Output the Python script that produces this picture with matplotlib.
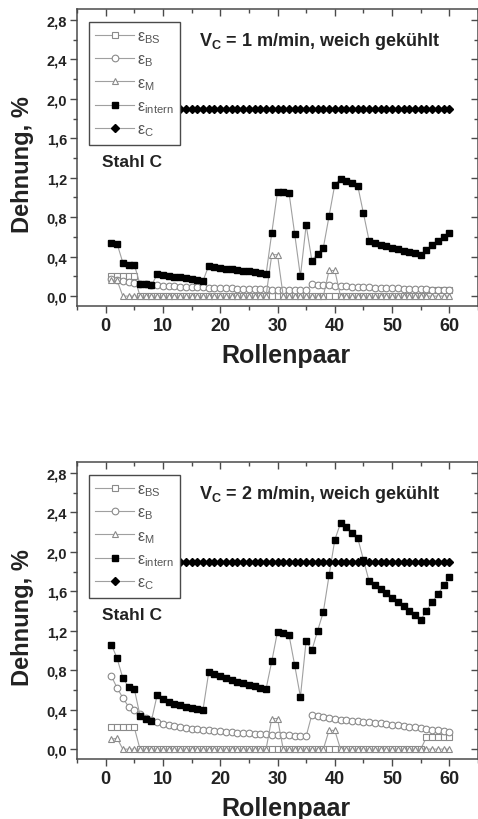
import matplotlib
matplotlib.use("Agg")
import matplotlib.pyplot as plt
from matplotlib.ticker import MultipleLocator, FuncFormatter

plt.rcParams['font.family'] = ['Liberation Sans', 'DejaVu Sans']

rollenpaar = list(range(1, 61))

# ---------- Panel 1: Vc = 1 m/min ----------
eps_bs_1 = [0.20, 0.20, 0.20, 0.20, 0.20] + [0.0] * 50 + [0.06, 0.06, 0.06, 0.06, 0.06]
eps_b_1 = [0.17, 0.16, 0.15, 0.14, 0.13, 0.12, 0.12, 0.11, 0.11, 0.105,
           0.10, 0.10, 0.095, 0.095, 0.09, 0.09, 0.09, 0.085, 0.085, 0.08,
           0.08, 0.08, 0.075, 0.075, 0.075, 0.07, 0.07, 0.07, 0.065, 0.065,
           0.065, 0.065, 0.065, 0.06, 0.06, 0.12, 0.115, 0.11, 0.11, 0.105,
           0.10, 0.10, 0.095, 0.095, 0.09, 0.09, 0.085, 0.085, 0.08, 0.08,
           0.08, 0.075, 0.075, 0.07, 0.07, 0.07, 0.065, 0.065, 0.06, 0.06]
eps_m_1 = [0.16, 0.16] + [0.0] * 26 + [0.42, 0.42] + [0.0] * 8 + [0.26, 0.26] + [0.0] * 20
eps_intern_1 = [0.54, 0.53, 0.34, 0.32, 0.32, 0.12, 0.12, 0.11,
                0.22, 0.21, 0.20, 0.195, 0.19, 0.18, 0.17, 0.165, 0.155,
                0.31, 0.30, 0.29, 0.28, 0.27, 0.265, 0.255, 0.25, 0.24, 0.23, 0.22,
                0.64, 1.06, 1.06, 1.05, 0.63, 0.20, 0.72, 0.36, 0.43, 0.49, 0.81,
                1.13, 1.19, 1.17, 1.15, 1.12, 0.84, 0.56, 0.54, 0.52, 0.51, 0.49,
                0.48, 0.46, 0.45, 0.44, 0.42, 0.47, 0.52, 0.56, 0.60, 0.64]
eps_c_1 = [1.9] * 60

# ---------- Panel 2: Vc = 2 m/min ----------
eps_bs_2 = [0.22, 0.22, 0.22, 0.22, 0.22] + [0.0] * 50 + [0.12, 0.12, 0.12, 0.12, 0.12]
eps_b_2 = [0.74, 0.62, 0.52, 0.43, 0.40, 0.36, 0.32, 0.30, 0.27, 0.25,
           0.24, 0.23, 0.22, 0.21, 0.205, 0.20, 0.195, 0.19, 0.185, 0.18,
           0.175, 0.17, 0.165, 0.16, 0.16, 0.155, 0.15, 0.15, 0.145, 0.145,
           0.14, 0.14, 0.135, 0.13, 0.13, 0.35, 0.34, 0.33, 0.32, 0.31,
           0.30, 0.295, 0.29, 0.285, 0.28, 0.27, 0.265, 0.26, 0.25, 0.245,
           0.24, 0.23, 0.225, 0.22, 0.21, 0.20, 0.195, 0.19, 0.18, 0.175]
eps_m_2 = [0.10, 0.11] + [0.0] * 26 + [0.31, 0.31] + [0.0] * 8 + [0.19, 0.19] + [0.0] * 20
eps_intern_2 = [1.06, 0.92, 0.72, 0.63, 0.61, 0.34, 0.31, 0.29,
                0.55, 0.51, 0.48, 0.46, 0.45, 0.43, 0.42, 0.41, 0.40,
                0.78, 0.76, 0.74, 0.72, 0.70, 0.68, 0.67, 0.65, 0.64, 0.62, 0.61,
                0.89, 1.19, 1.18, 1.16, 0.85, 0.53, 1.10, 1.00, 1.20, 1.39, 1.76,
                2.12, 2.29, 2.25, 2.19, 2.14, 1.92, 1.70, 1.66, 1.62, 1.58, 1.53,
                1.49, 1.45, 1.40, 1.36, 1.31, 1.40, 1.49, 1.57, 1.66, 1.74]
eps_c_2 = [1.9] * 60

titles = ["1", "2"]
legend_labels = [r'ε$_\mathregular{BS}$', r'ε$_\mathregular{B}$', r'ε$_\mathregular{M}$',
                 r'ε$_\mathregular{intern}$', r'ε$_\mathregular{C}$']

W, H = 478, 820
fig = plt.figure(figsize=(W / 100, H / 100), dpi=100)

LINE_C = '#a0a0a0'
OPEN_C = '#8a8a8a'
SPINE_C = '#4a4a4a'


def panel(ax, bs, b, m, intern, c, speed):
    x = rollenpaar
    ax.plot(x, bs, '-', color=LINE_C, lw=0.8, marker='s', ms=4.2, mfc='white',
            mec=OPEN_C, mew=0.8, label=legend_labels[0], zorder=2)
    ax.plot(x, b, '-', color=LINE_C, lw=0.8, marker='o', ms=4.8, mfc='white',
            mec=OPEN_C, mew=0.8, label=legend_labels[1], zorder=2)
    ax.plot(x, m, '-', color=LINE_C, lw=0.8, marker='^', ms=5, mfc='white',
            mec=OPEN_C, mew=0.8, label=legend_labels[2], zorder=2)
    ax.plot(x, intern, '-', color=LINE_C, lw=0.8, marker='s', ms=4.6, mfc='black',
            mec='black', label=legend_labels[3], zorder=3)
    ax.plot(x, c, '-', color=LINE_C, lw=0.8, marker='D', ms=4.2, mfc='black',
            mec='black', label=legend_labels[4], zorder=3)

    ax.set_xlim(-5, 65)
    ax.set_ylim(-0.1, 2.91)
    ax.xaxis.set_major_locator(MultipleLocator(10))
    ax.xaxis.set_minor_locator(MultipleLocator(5))
    ax.yaxis.set_major_locator(MultipleLocator(0.4))
    ax.yaxis.set_minor_locator(MultipleLocator(0.2))
    ax.yaxis.set_major_formatter(FuncFormatter(lambda v, p: f"{v:.1f}".replace('.', ',')))
    for s in ax.spines.values():
        s.set_color(SPINE_C)
        s.set_linewidth(1.1)
    ax.tick_params(axis='both', which='both', color=SPINE_C, width=1.0)
    ax.tick_params(axis='both', which='major', length=5)
    ax.tick_params(axis='both', which='minor', length=3)
    ax.tick_params(axis='x', which='both', direction='out', top=True)
    ax.tick_params(axis='y', which='both', direction='out', right=True)
    ax.tick_params(axis='x', which='major', labelsize=13, pad=3)
    ax.tick_params(axis='y', which='major', labelsize=10.5, pad=2)
    for lab in ax.get_xticklabels() + ax.get_yticklabels():
        lab.set_fontweight('bold')
        lab.set_color('#222222')
    # inward ticks on top & right
    for t in ax.xaxis.get_major_ticks() + ax.xaxis.get_minor_ticks():
        t.tick2line.set_marker(3)  # TICKDOWN
    for t in ax.yaxis.get_major_ticks() + ax.yaxis.get_minor_ticks():
        t.tick2line.set_marker(0)  # TICKLEFT

    leg = ax.legend(loc='upper left', bbox_to_anchor=(0.03, 0.957), borderaxespad=0,
                    fancybox=False, framealpha=1, edgecolor=SPINE_C, fontsize=11.5,
                    handlelength=2.4, handletextpad=0.2, labelspacing=0.42,
                    borderpad=0.4)
    leg.get_frame().set_linewidth(1.0)
    for t in leg.get_texts():
        t.set_color('#555555')
    leg.set_zorder(5)

    ax.text(0.606, 0.893, r'V$_\mathregular{C}$ = ' + speed + ' m/min, weich gekühlt',
            transform=ax.transAxes, ha='center', va='center', fontsize=13,
            fontweight='bold', color='#222222', zorder=6)
    ax.text(0.062, 0.488, 'Stahl C', transform=ax.transAxes, ha='left', va='center',
            fontsize=12.5, fontweight='bold', color='#222222', zorder=6)
    ax.text(0.52, -0.165, 'Rollenpaar', transform=ax.transAxes, ha='center',
            va='center', fontsize=18, fontweight='bold', color='#222222')
    ax.text(-0.135, 0.478, 'Dehnung, %', transform=ax.transAxes, ha='center',
            va='center', rotation=90, fontsize=17, fontweight='bold', color='#222222')


left = 77 / W
width = 401 / W
h = 297 / H
ax1 = fig.add_axes([left, 1 - 307 / H, width, h])
ax2 = fig.add_axes([left, 1 - 760 / H, width, h])

panel(ax1, eps_bs_1, eps_b_1, eps_m_1, eps_intern_1, eps_c_1, titles[0])
panel(ax2, eps_bs_2, eps_b_2, eps_m_2, eps_intern_2, eps_c_2, titles[1])

fig.savefig('out.png', dpi=100)
